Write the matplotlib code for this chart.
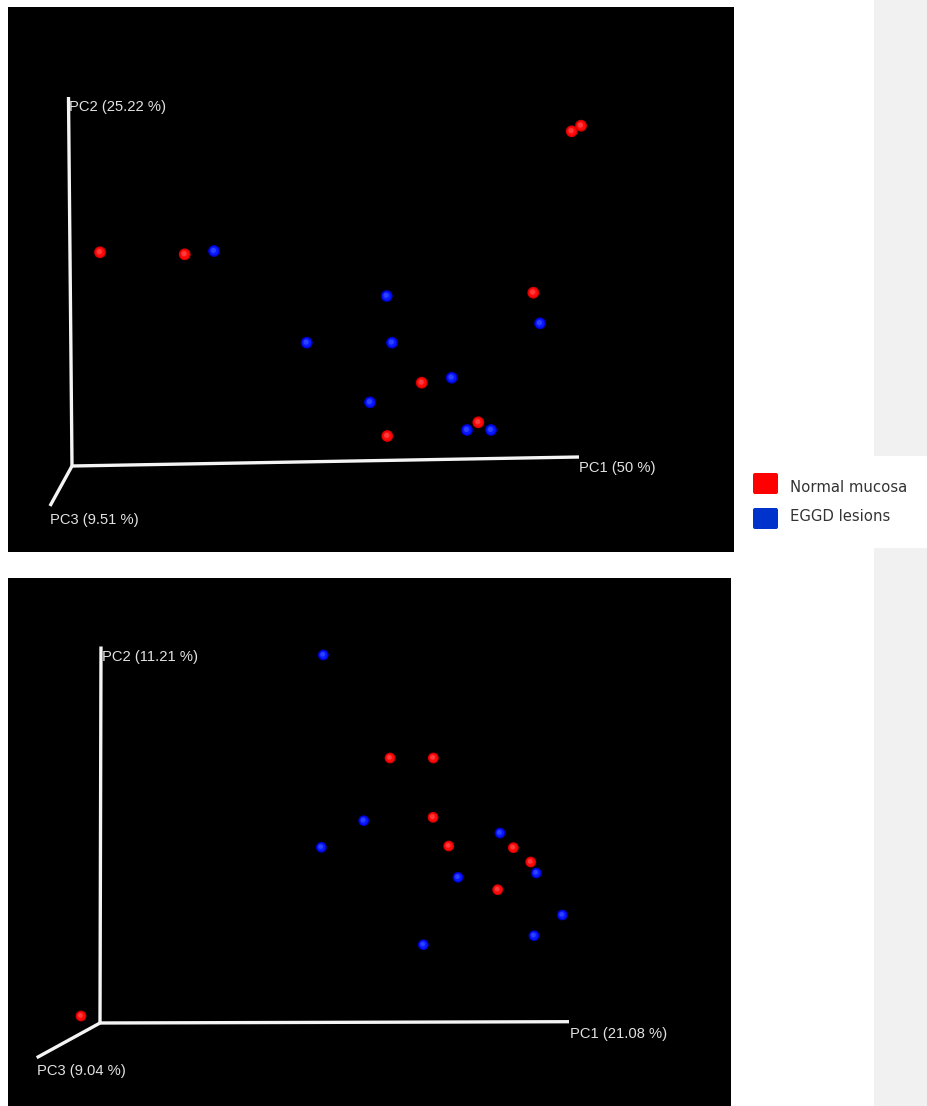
import matplotlib
matplotlib.use("Agg")
import matplotlib.pyplot as plt
from matplotlib.patches import Rectangle, FancyBboxPatch

# Two PCoA views, projected point positions (screen units, origin at the axis triad)
groups = ["Normal mucosa", "EGGD lesions"]

top_red_x = [28, 112.7, 499.7, 509, 461.3, 349.7, 406.3, 315.3]
top_red_y = [213.7, 211.7, 334.7, 340.3, 173.3, 83.3, 43.7, 30]
top_blue_x = [142, 314.7, 468, 234.7, 320, 379.7, 298, 395, 419]
top_blue_y = [215, 170, 142.7, 123.3, 123.3, 88.3, 63.7, 36, 36]
top_labels = ["PC1 (50 %)", "PC2 (25.22 %)", "PC3 (9.51 %)"]

bot_red_x = [290, 333.3, 333, 348.7, 413.3, 430.7, 397.7, -19]
bot_red_y = [265, 265, 205.7, 177, 175.3, 161, 133.3, 7]
bot_blue_x = [223.3, 263.7, 221.3, 400, 436.3, 358, 462.3, 434, 323.3]
bot_blue_y = [368, 202.3, 175.7, 190, 150, 145.7, 108, 87.3, 78.3]
bot_labels = ["PC1 (21.08 %)", "PC2 (11.21 %)", "PC3 (9.04 %)"]

# projected ends of the PC1 / PC2 / PC3 axes
top_axis_ends = [(507, 9), (-3.5, 369), (-22, -40)]
bot_axis_ends = [(469, 1.3), (1, 376.5), (-63.3, -34.7)]

W, H = 928, 1106
fig = plt.figure(figsize=(W / 100, H / 100), dpi=100)
fig.patch.set_facecolor("white")


def px(x, y):
    # pixel position (top-left origin) -> figure fraction
    return x / W, 1 - y / H


def draw_spheres(ax, xs, ys, base, dark, light, size):
    ax.scatter(xs, ys, s=size, color=dark, edgecolors="none", zorder=3)
    ax.scatter(xs, ys, s=size * 0.6, color=base, edgecolors="none", zorder=4)
    ax.scatter([x - 0.6 for x in xs], [y + 0.6 for y in ys], s=size * 0.2,
               color=light, edgecolors="none", zorder=5)


def draw_panel(rect, xlim, ylim, red, blue, ends, labels, label_pos, msize):
    ax = fig.add_axes(rect)
    ax.set_facecolor("black")
    ax.set_xlim(*xlim)
    ax.set_ylim(*ylim)
    for s in ax.spines.values():
        s.set_visible(False)
    ax.set_xticks([])
    ax.set_yticks([])

    for ex, ey in ends:
        ax.plot([0, ex], [0, ey], color="#f4f4f4", lw=2.4,
                solid_capstyle="butt", zorder=2)
    for lab, (lx, ly) in zip(labels, label_pos):
        ax.text(lx, ly, lab, color="#e2e2e2", fontsize=10.6,
                family="Liberation Sans", ha="left", va="center", zorder=6)

    draw_spheres(ax, red[0], red[1], "#ff0a0a", "#d80000", "#ff3a3a", msize)
    draw_spheres(ax, blue[0], blue[1], "#0818ff", "#0000cc", "#2c40ff", msize)
    return ax


# top panel: x 8..734, y 7..552, triad origin at (72, 466)
l, b = px(8, 552)
draw_panel([l, b, 726 / W, 545 / H], (8 - 72, 734 - 72), (466 - 552, 466 - 7),
           (top_red_x, top_red_y), (top_blue_x, top_blue_y),
           top_axis_ends, top_labels,
           [(507.3, -2), (-3, 359), (-22, -54)], 72)

# bottom panel: x 8..731, y 578..1106, triad origin at (100, 1023)
l, b = px(8, 1106)
draw_panel([l, b, 723 / W, 528 / H], (8 - 100, 731 - 100), (1023 - 1106, 1023 - 578),
           (bot_red_x, bot_red_y), (bot_blue_x, bot_blue_y),
           bot_axis_ends, bot_labels,
           [(470, -11), (1.7, 366), (-63, -48)], 60)

# grey side strip with the white legend box over it
x0, _ = px(874, 0)
fig.patches.append(Rectangle((x0, 0), 1 - x0, 1, transform=fig.transFigure,
                             facecolor="#f1f1f1", edgecolor="none", zorder=0))
lx, ly = px(734, 548)
fig.patches.append(Rectangle((lx, ly), 1 - lx, (548 - 456) / H,
                             transform=fig.transFigure, facecolor="white",
                             edgecolor="none", zorder=1))

legend_colors = ["#ff0000", "#0033cc"]
square_tops = [473, 508]
text_rows = [487, 517]
for name, col, top, row in zip(groups, legend_colors, square_tops, text_rows):
    sx, sy = px(753, top + 21)
    fig.patches.append(FancyBboxPatch((sx, sy), 25 / W, 21 / H,
                                      boxstyle="round,pad=0,rounding_size=0.002",
                                      transform=fig.transFigure, facecolor=col,
                                      edgecolor="none", zorder=2))
    tx, ty = px(790, row)
    fig.text(tx, ty, name, color="#333333", fontsize=10.7, family="DejaVu Sans",
             ha="left", va="center")

fig.savefig("out.png", dpi=100)
